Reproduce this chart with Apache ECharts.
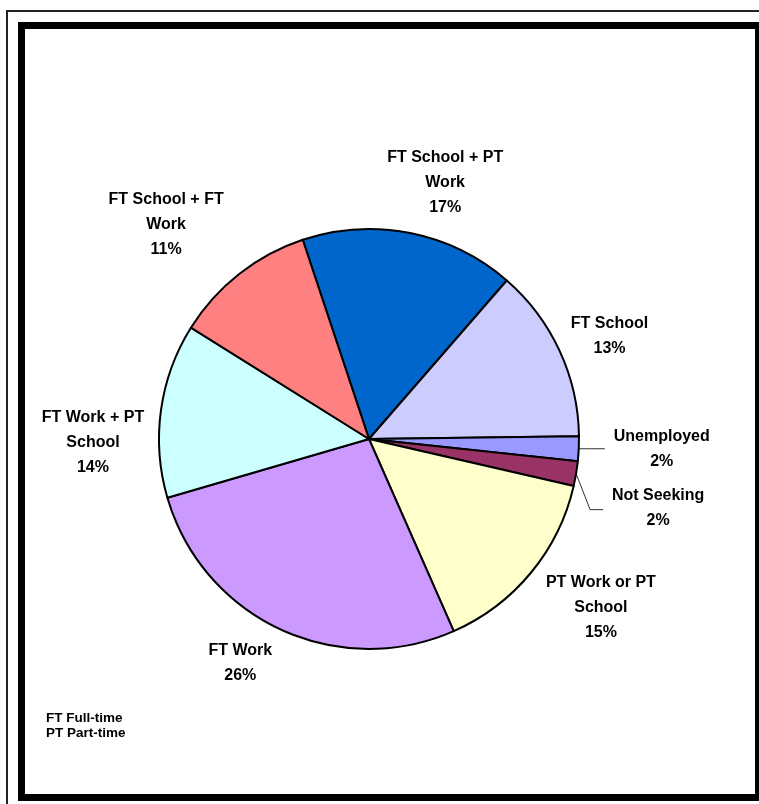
<!DOCTYPE html>
<html>
<head>
<meta charset="utf-8">
<script src="https://cdn.jsdelivr.net/npm/echarts@6/dist/echarts.min.js"></script>
<style>
    html, body { margin: 0; padding: 0; background: #fff; }
    #chart { width: 759px; height: 804px; }
</style>
</head>
<body>
<div id="chart"></div>
<script>
    // slices, clockwise from the top
    const categories = ['FT School + PT\nWork', 'FT School', 'Unemployed', 'Not Seeking',
        'PT Work or PT\nSchool', 'FT Work', 'FT Work + PT\nSchool', 'FT School + FT\nWork'];
    const shares = [16.5, 13.4, 1.9, 1.9, 14.8, 27.1, 13.4, 11.0];
    const percentLabels = ['17%', '13%', '2%', '2%', '15%', '26%', '14%', '11%'];
    const notes = ['FT Full-time', 'PT Part-time'];

    const sliceColors = ['#0066cc', '#ccccff', '#9999ff', '#993366', '#ffffcc', '#cc99ff', '#ccffff', '#ff8080'];
    // label centre, relative to the slice's outer edge at its mid angle
    const labelOffsets = [[35, -50], [50, -15], [83, 0], [82, 34], [70, 35], [-40, 34], [-68, 32], [-73, -49]];
    // leader lines, relative to the same edge point
    const leaderLines = [null, null, [[0, 0], [12, 0], [26, 0]], [[0, 0], [14, 36], [27, 36]], null, null, null, null];

    let chart = echarts.init(document.getElementById('chart'), null, {renderer: 'canvas'});

    let pieData = categories.map((name, i) => ({
        name: name,
        value: shares[i],
        itemStyle: {color: sliceColors[i]},
        labelLine: {lineStyle: {opacity: leaderLines[i] ? 1 : 0}}
    }));

    let option = {
        animation: false,
        backgroundColor: '#fff',
        graphic: [
            {
                type: 'rect',
                shape: {x: 7, y: 11, width: 760, height: 800},
                style: {fill: 'none', stroke: '#222', lineWidth: 2}
            },
            {
                type: 'rect',
                shape: {x: 21.5, y: 25.5, width: 737, height: 772},
                style: {fill: 'none', stroke: '#000', lineWidth: 7}
            },
            {
                type: 'text',
                left: 46,
                top: 711,
                style: {
                    text: notes.join('\n'),
                    font: 'bold 13.5px "Liberation Sans", Arial, sans-serif',
                    lineHeight: 15,
                    fill: '#000'
                }
            }
        ],
        series: [{
            type: 'pie',
            center: [369, 439],
            radius: 210,
            startAngle: 108.4,
            clockwise: true,
            avoidLabelOverlap: false,
            emphasis: {disabled: true},
            itemStyle: {borderColor: '#000', borderWidth: 2},
            label: {
                show: true,
                position: 'outside',
                color: '#000',
                fontFamily: '"Liberation Sans", Arial, sans-serif',
                fontWeight: 'bold',
                fontSize: 16,
                lineHeight: 25,
                formatter: function (p) {
                    return p.name + '\n' + percentLabels[p.dataIndex];
                }
            },
            labelLine: {
                show: true,
                length: 10,
                length2: 10,
                lineStyle: {color: '#333', width: 1}
            },
            labelLayout: function (params) {
                let i = params.dataIndex;
                let pts = params.labelLinePoints;
                let r = params.labelRect;
                let base = pts ? pts[0] : [r.x + r.width / 2, r.y + r.height / 2];
                let res = {
                    x: base[0] + labelOffsets[i][0],
                    y: base[1] + labelOffsets[i][1],
                    align: 'center',
                    verticalAlign: 'middle'
                };
                if (leaderLines[i]) {
                    res.labelLinePoints = leaderLines[i].map(d => [base[0] + d[0], base[1] + d[1]]);
                }
                return res;
            },
            data: pieData
        }]
    };
    chart.setOption(option, true);
</script>
</body>
</html>
